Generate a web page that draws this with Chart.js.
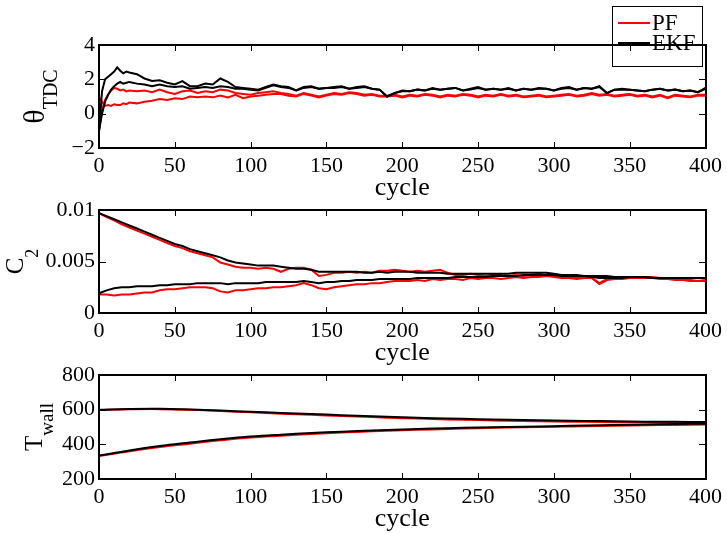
<!DOCTYPE html>
<html><head><meta charset="utf-8">
<script src="https://cdn.jsdelivr.net/npm/chart.js@4.4.1/dist/chart.umd.min.js"></script>
<style>
body{margin:0;background:#fff;width:727px;height:534px;overflow:hidden;position:relative}
canvas{position:absolute;left:0}
#ov{z-index:10;pointer-events:none}
.frm{position:absolute;box-sizing:border-box;border:2px solid #000;z-index:20;pointer-events:none}
.tk{position:absolute;background:#000;z-index:20;pointer-events:none}
</style></head><body>
<canvas id="c1" width="727" height="215" style="top:0px"></canvas>
<canvas id="c2" width="727" height="215" style="top:165px"></canvas>
<canvas id="c3" width="727" height="204" style="top:330px"></canvas>
<canvas id="ov" width="727" height="534" style="top:0px"></canvas>
<div id="frames"></div>
<script>
// ---------- data ----------
const xTicks = [0,50,100,150,200,250,300,350,400];
const xTickLabels = ['0','50','100','150','200','250','300','350','400'];
const xTitle = 'cycle';
const seriesNames = ['PF','EKF'];

// plot 1 : theta_TDC
const cycles1 = [0,2,4,6,8,10,12,14,16,18,20,25,30,35,40,45,50,55,60,65,70,75,80,85,90,95,100,
 105,110,115,120,125,130,135,140,145,150,155,160,165,170,175,180,185,190,195,200,
 205,210,215,220,225,230,235,240,245,250,255,260,265,270,275,280,285,290,295,300,
 305,310,315,320,325,330,335,340,345,350,355,360,365,370,375,380,385,390,395,400];
const ekfHi1 = [-1,1.3,2.0,2.15,2.3,2.45,2.7,2.5,2.35,2.45,2.4,
 2.3,2.05,1.9,1.95,1.8,1.7,1.9,1.6,1.6,1.75,1.7,2.05,1.85,1.55,1.5,1.45,
 1.4,1.55,1.7,1.6,1.55,1.35,1.55,1.6,1.45,1.5,1.55,1.6,1.45,1.55,1.6,1.45,1.4,1.0,1.2,1.35,
 1.3,1.4,1.35,1.5,1.4,1.45,1.5,1.35,1.45,1.55,1.4,1.45,1.4,1.5,1.35,1.45,1.4,1.5,1.45,1.35,
 1.5,1.55,1.4,1.5,1.45,1.6,1.2,1.4,1.45,1.4,1.35,1.3,1.4,1.45,1.35,1.4,1.3,1.35,1.25,1.5];
const ekfLo1 = [-1,0.0,0.7,1.1,1.4,1.6,1.75,1.85,1.75,1.8,1.85,
 1.75,1.7,1.6,1.7,1.6,1.55,1.6,1.45,1.5,1.55,1.5,1.6,1.55,1.45,1.45,1.4,
 1.35,1.5,1.65,1.55,1.5,1.35,1.5,1.55,1.45,1.5,1.5,1.55,1.45,1.5,1.55,1.45,1.4,1.0,1.2,1.3,
 1.3,1.4,1.35,1.45,1.4,1.45,1.5,1.35,1.4,1.5,1.4,1.45,1.4,1.45,1.35,1.45,1.4,1.45,1.45,1.35,
 1.45,1.5,1.4,1.5,1.45,1.55,1.2,1.4,1.4,1.4,1.35,1.3,1.4,1.45,1.35,1.4,1.3,1.35,1.25,1.45];
const pfHi1 = [-1,0.2,0.8,1.1,1.35,1.5,1.45,1.35,1.4,1.3,1.35,
 1.3,1.35,1.25,1.4,1.25,1.15,1.3,1.35,1.2,1.3,1.25,1.4,1.35,1.2,1.15,1.1,
 1.2,1.25,1.3,1.2,1.15,1.05,1.2,1.1,1.0,1.1,1.2,1.15,1.25,1.2,1.1,1.15,1.05,1.05,1.1,1.0,
 1.1,1.05,1.15,1.1,1.0,1.1,1.05,1.15,1.1,1.0,1.1,1.05,1.15,1.05,1.1,1.0,1.05,1.1,1.0,1.05,
 1.1,1.15,1.05,1.1,1.2,1.1,1.15,1.05,1.1,1.15,1.05,1.1,1.0,1.1,0.95,1.1,1.05,1.0,1.1,1.1];
const pfLo1 = [1.0,0.7,0.45,0.5,0.45,0.55,0.5,0.5,0.6,0.55,0.65,
 0.6,0.7,0.75,0.85,0.8,0.9,0.85,1.0,0.95,1.0,0.95,1.05,0.95,1.1,0.9,1.0,
 1.05,1.1,1.15,1.15,1.05,1.0,1.15,1.05,0.95,1.05,1.15,1.1,1.2,1.15,1.05,1.1,1.0,1.0,1.05,0.95,
 1.05,1.0,1.1,1.05,0.95,1.05,1.0,1.1,1.05,0.95,1.05,1.0,1.1,1.0,1.05,0.95,1.0,1.05,0.95,1.0,
 1.05,1.1,1.0,1.05,1.15,1.05,1.1,1.0,1.05,1.1,1.0,1.05,0.95,1.05,0.9,1.05,1.0,0.95,1.05,1.05];
const yTicks1 = [-2,0,2,4];
const yTickLabels1 = ['\u22122','0','2','4'];

// plot 2 : C2
const cycles2 = [0,5,10,15,20,25,30,35,40,45,50,55,60,65,70,75,80,85,90,95,100,
 105,110,115,120,125,130,135,140,145,150,155,160,165,170,175,180,185,190,195,200,
 205,210,215,220,225,230,235,240,245,250,255,260,265,270,275,280,285,290,295,300,
 305,310,315,320,325,330,335,340,345,350,355,360,365,370,375,380,385,390,395,400];
const ekfHi2 = [0.0097,0.0094,0.0091,0.0088,0.0085,0.0082,0.0079,0.0076,0.0073,0.0070,0.0067,0.0065,0.0062,0.0060,0.0058,0.0056,0.0054,0.0051,0.0049,0.0048,0.0047,
 0.0046,0.0046,0.0046,0.0045,0.0044,0.0043,0.0043,0.0042,0.0040,0.0040,0.0040,0.0040,0.0040,0.0040,0.0039,0.0039,0.0040,0.0039,0.0040,0.0040,
 0.0040,0.0039,0.0039,0.0039,0.0039,0.0038,0.0038,0.0038,0.0038,0.0038,0.0038,0.0038,0.0038,0.0038,0.0039,0.0039,0.0039,0.0039,0.0039,0.0038,
 0.0037,0.0037,0.0037,0.0036,0.0036,0.0036,0.0036,0.0035,0.0035,0.0035,0.0035,0.0035,0.0034,0.0034,0.0034,0.0034,0.0034,0.0034,0.0034,0.0034];
const pfHi2 = [0.0097,0.0093,0.0090,0.0086,0.0083,0.0080,0.0077,0.0074,0.0071,0.0068,0.0065,0.0063,0.0060,0.0058,0.0056,0.0054,0.0049,0.0047,0.0045,0.0044,0.0044,
 0.0043,0.0044,0.0043,0.0040,0.0043,0.0044,0.0044,0.0042,0.0036,0.0037,0.0039,0.0039,0.0040,0.0039,0.0040,0.0039,0.0041,0.0041,0.0042,0.0041,
 0.0040,0.0041,0.0040,0.0041,0.0042,0.0039,0.0037,0.0037,0.0038,0.0037,0.0036,0.0037,0.0037,0.0036,0.0037,0.0036,0.0037,0.0038,0.0036,0.0036,
 0.0035,0.0035,0.0034,0.0035,0.0034,0.0029,0.0033,0.0034,0.0034,0.0035,0.0034,0.0035,0.0035,0.0034,0.0033,0.0033,0.0032,0.0032,0.0031,0.0032];
const ekfLo2 = [0.0019,0.0022,0.0024,0.0025,0.0025,0.0026,0.0026,0.0026,0.0027,0.0027,0.0028,0.0028,0.0028,0.0029,0.0029,0.0029,0.0029,0.0028,0.0029,0.0029,0.0029,
 0.0029,0.0030,0.0030,0.0030,0.0030,0.0030,0.0031,0.0030,0.0029,0.0030,0.0030,0.0031,0.0031,0.0032,0.0032,0.0032,0.0033,0.0033,0.0033,0.0033,
 0.0033,0.0034,0.0034,0.0034,0.0034,0.0034,0.0035,0.0035,0.0035,0.0035,0.0035,0.0036,0.0036,0.0036,0.0036,0.0037,0.0037,0.0037,0.0037,0.0037,
 0.0036,0.0036,0.0036,0.0036,0.0035,0.0034,0.0034,0.0034,0.0034,0.0035,0.0035,0.0035,0.0034,0.0034,0.0034,0.0034,0.0034,0.0034,0.0034,0.0034];
const pfLo2 = [0.0018,0.0018,0.0017,0.0018,0.0018,0.0019,0.0020,0.0020,0.0022,0.0023,0.0023,0.0024,0.0025,0.0025,0.0025,0.0024,0.0021,0.0020,0.0022,0.0022,0.0023,
 0.0024,0.0024,0.0025,0.0025,0.0026,0.0027,0.0029,0.0027,0.0024,0.0023,0.0025,0.0026,0.0027,0.0028,0.0028,0.0029,0.0029,0.0030,0.0031,0.0031,
 0.0031,0.0032,0.0031,0.0033,0.0032,0.0033,0.0033,0.0032,0.0034,0.0033,0.0034,0.0034,0.0033,0.0034,0.0035,0.0034,0.0035,0.0035,0.0036,0.0035,
 0.0034,0.0034,0.0033,0.0034,0.0034,0.0028,0.0032,0.0033,0.0033,0.0034,0.0034,0.0034,0.0034,0.0033,0.0033,0.0032,0.0032,0.0031,0.0031,0.0031];
const yTicks2 = [0,0.005,0.01];
const yTickLabels2 = ['0','0.005','0.01'];

// plot 3 : T_wall
const cycles3 = [0,20,40,60,80,100,120,140,160,180,200,220,240,260,280,300,320,340,360,380,400];
const ekfHi3 = [600,604,605,601,595,588,581,575,568,562,556,551,547,543,540,537,535,533,531,530,529];
const pfHi3  = [598,602,603,599,592,585,577,570,563,557,551,546,542,538,535,532,530,528,527,526,525];
const ekfLo3 = [335,365,390,410,429,445,456,465,473,480,486,491,495,499,502,505,508,511,514,517,519];
const pfLo3  = [332,360,384,404,423,439,450,460,468,475,481,486,491,495,498,501,504,507,510,512,514];
const yTicks3 = [200,400,600,800];
const yTickLabels3 = ['200','400','600','800'];

// ---------- drawing ----------
const RED = '#ff0000', BLACK = '#000000';
const FONT = '"Liberation Serif", "Times New Roman", serif';

function pts(cyc, vals){ return cyc.map((c,i)=>({x:c, y:vals[i]})); }

function deco(cfg){
  return {
    id:'deco',
    afterDraw(chart){
      const ctx = chart.ctx, ca = chart.chartArea;
      ctx.save();
      ctx.fillStyle = '#000';
      ctx.font = '26px ' + FONT;
      ctx.textAlign = 'center'; ctx.textBaseline = 'middle';
      ctx.fillText(xTitle, (ca.left+ca.right)/2, ca.bottom+40);
      const cy = (ca.top+ca.bottom)/2;
      ctx.font = cfg.mainSize + 'px ' + FONT;
      const mw = ctx.measureText(cfg.main).width;
      ctx.font = cfg.subSize + 'px ' + FONT;
      const sw = ctx.measureText(cfg.sub).width;
      ctx.translate(cfg.baseX, cy);
      ctx.rotate(-Math.PI/2);
      ctx.textAlign = 'left'; ctx.textBaseline = 'alphabetic';
      const x0 = -(mw+sw)/2;
      ctx.font = cfg.mainSize + 'px ' + FONT;
      ctx.fillText(cfg.main, x0, 0);
      ctx.font = cfg.subSize + 'px ' + FONT;
      ctx.fillText(cfg.sub, x0+mw, cfg.subOff);
      ctx.restore();
    }
  };
}

function makeChart(id, xHeight, cyc, series, yMin, yMax, yTicks, yLabels, cfg, tension){
  const datasets = series.map(s=>({
    label:s.label, data:pts(cyc, s.vals), borderColor:s.color, backgroundColor:s.color,
    borderWidth:2, pointRadius:0, tension:tension||0, fill:false
  }));
  return new Chart(document.getElementById(id), {
    type:'line',
    data:{datasets},
    options:{
      responsive:false, animation:false, devicePixelRatio:1,
      layout:{padding:{top:45,right:18,left:0,bottom:0}},
      plugins:{legend:{display:false}, tooltip:{enabled:false}},
      scales:{
        x:{type:'linear', min:0, max:400,
          afterBuildTicks:(s)=>{ s.ticks = xTicks.map(v=>({value:v})); },
          afterFit:(s)=>{ s.height = xHeight; },
          ticks:{autoSkip:false, maxRotation:0, color:'#000', padding:5,
            font:{family:FONT, size:22},
            callback:(v)=>{ const i = xTicks.indexOf(v); return i>=0 ? xTickLabels[i] : ''; }},
          grid:{drawOnChartArea:false, drawTicks:false},
          border:{display:true, color:'#000', width:1.5}},
        y:{type:'linear', min:yMin, max:yMax,
          afterBuildTicks:(s)=>{ s.ticks = yTicks.map(v=>({value:v})); },
          afterFit:(s)=>{ s.width = 99; },
          ticks:{autoSkip:false, color:'#000', padding:4,
            font:{family:FONT, size:22},
            callback:(v)=>{ const i = yTicks.indexOf(v); return i>=0 ? yLabels[i] : ''; }},
          grid:{drawOnChartArea:false, drawTicks:false},
          border:{display:true, color:'#000', width:1.5}}
      }
    },
    plugins:[deco(cfg)]
  });
}

const charts = [
 {chart: makeChart('c1', 67, cycles1, [
  {label:'EKF', vals:ekfHi1, color:BLACK},
  {label:'EKF', vals:ekfLo1, color:BLACK},
  {label:'PF', vals:pfHi1, color:RED},
  {label:'PF', vals:pfLo1, color:RED}
 ], -2, 4, yTicks1, yTickLabels1,
 {main:'\u03b8', sub:'TDC', mainSize:30, subSize:20, baseX:44, subOff:13}), top:0, legend:true},
 {chart: makeChart('c2', 67, cycles2, [
  {label:'EKF', vals:ekfHi2, color:BLACK},
  {label:'EKF', vals:ekfLo2, color:BLACK},
  {label:'PF', vals:pfHi2, color:RED},
  {label:'PF', vals:pfLo2, color:RED}
 ], 0, 0.01, yTicks2, yTickLabels2,
 {main:'C', sub:'2', mainSize:25, subSize:18, baseX:23, subOff:15}), top:165, legend:false},
 {chart: makeChart('c3', 55, cycles3, [
  {label:'EKF', vals:ekfHi3, color:BLACK},
  {label:'EKF', vals:ekfLo3, color:BLACK},
  {label:'PF', vals:pfHi3, color:RED},
  {label:'PF', vals:pfLo3, color:RED}
 ], 200, 800, yTicks3, yTickLabels3,
 {main:'T', sub:'wall', mainSize:25, subSize:19, baseX:42, subOff:11}, 0.4), top:330, legend:false}
];

// frames and inward ticks as positioned elements, placed from each chart's scales
function addBox(cls, l, t, w, h){
  const d = document.createElement('div');
  d.className = cls;
  d.style.left = l + 'px'; d.style.top = t + 'px';
  d.style.width = w + 'px'; d.style.height = h + 'px';
  document.getElementById('frames').appendChild(d);
}
function buildFrames(){
  document.getElementById('frames').innerHTML = '';
  charts.forEach(o=>{
    const ch = o.chart, ca = ch.chartArea, sx = ch.scales.x, sy = ch.scales.y;
    const off = o.top;
    const L = Math.round(ca.left), R = Math.round(ca.right);
    const T = Math.round(ca.top)+off, B = Math.round(ca.bottom)+off;
    addBox('frm', L-1, T-1, R-L+2, B-T+2);
    sx.ticks.forEach(t=>{
      const p = Math.round(sx.getPixelForValue(t.value));
      addBox('tk', p, B-6, 1, 5);
      addBox('tk', p, T+1, 1, 5);
    });
    sy.ticks.forEach(t=>{
      const p = Math.round(sy.getPixelForValue(t.value))+off;
      addBox('tk', L+1, p, 6, 1);
      addBox('tk', R-7, p, 6, 1);
    });
  });
}

// legend on the overlay canvas
function drawLegend(){
  const oc = document.getElementById('ov');
  const ctx = oc.getContext('2d');
  ctx.clearRect(0,0,oc.width,oc.height);
  charts.forEach(o=>{
    if (!o.legend) return;
    const ch = o.chart;
    const bl=612, bt=6, bw=90, bh=60;
    ctx.fillStyle='#fff'; ctx.fillRect(bl,bt,bw,bh);
    ctx.fillStyle='#000';
    ctx.fillRect(bl,bt,bw+1,1); ctx.fillRect(bl,bt+bh,bw+1,1);
    ctx.fillRect(bl,bt,1,bh+1); ctx.fillRect(bl+bw,bt,1,bh+1);
    const seen = {}, items = [];
    ch.data.datasets.forEach(d=>{ if(!seen[d.label]){ seen[d.label]=1; items.push(d);} });
    items.sort((a,b)=>seriesNames.indexOf(a.label)-seriesNames.indexOf(b.label));
    ctx.font = '23px ' + FONT; ctx.textBaseline='middle'; ctx.textAlign='left';
    items.forEach((d,i)=>{
      const y = bt + 17 + i*20;
      ctx.fillStyle = d.borderColor; ctx.fillRect(bl+6, y-1, 32, 2);
      ctx.fillStyle='#000'; ctx.fillText(d.label, bl+40, y+1);
    });
  });
}
buildFrames();
drawLegend();
</script>
</body></html>
